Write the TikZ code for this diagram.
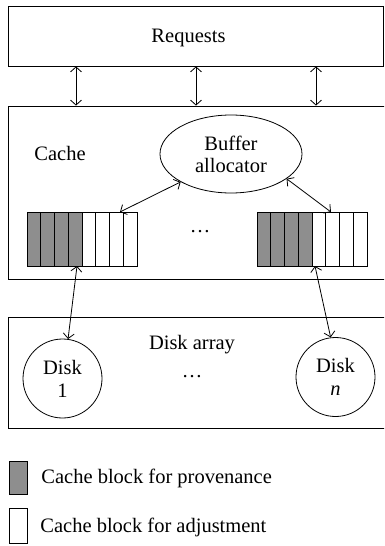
\documentclass[tikz,border=0pt]{standalone}
\usepackage{fontspec}
\setmainfont{Liberation Serif}
\usetikzlibrary{arrows.meta,shapes.geometric}
\begin{document}
\begin{tikzpicture}[x=1pt,y=-1pt,line width=0.8pt,
  font=\fontsize{20.5}{23}\selectfont,
  frame/.style={draw,rectangle,inner sep=0pt},
  txt/.style={inner sep=0pt},
  cell/.style={draw,rectangle,inner sep=0pt,minimum width=13.75pt,minimum height=54pt},
  prov/.style={cell,fill=provgray},
  adj/.style={cell,fill=white},
  disk/.style={draw,circle,minimum size=79pt,inner sep=0pt,align=center},
  link/.style={{Straight Barb[length=5pt,width=11pt]}-{Straight Barb[length=5pt,width=11pt]}},
  tolink/.style={-{Straight Barb[length=5pt,width=11pt]}}]
\definecolor{provgray}{HTML}{8E8E8E}
\useasboundingbox (0,0) rectangle (384,546);
\clip (0,0) rectangle (384,546);

% layers
\node[frame,minimum width=375pt,minimum height=60pt] (req) at (195.5,36) {};
\node[txt] at (188.5,38) {Requests};
\node[frame,minimum width=380pt,minimum height=173pt] (cache) at (198,192.5) {};
\node[txt] (cachelbl) at (60,153) {Cache};
\node[frame,minimum width=380pt,minimum height=111pt] (array) at (198,372.5) {};
\node[txt] (arraylbl) at (192,345) {Disk array};

% request channels
\foreach \x/\n in {76/1,196/2,316/3}{
  \coordinate (ch\n) at (\x,0);
  \draw[link] (req.south -| ch\n) -- (cache.north -| ch\n);
}

% buffer allocator
\node[draw,ellipse,minimum width=142pt,minimum height=78pt,inner sep=0pt,align=center]
  (alloc) at (231,154) {Buffer\\[-1pt]allocator};

% cache blocks
\foreach \i in {1,...,8}{
  \pgfmathsetmacro{\cx}{27+13.75*(\i-0.5)}
  \pgfmathsetmacro{\rx}{257+13.75*(\i-0.5)}
  \ifnum\i<5
    \node[prov] (lb\i) at (\cx,239) {};
    \node[prov] (rb\i) at (\rx,239) {};
  \else
    \node[adj] (lb\i) at (\cx,239) {};
    \node[adj] (rb\i) at (\rx,239) {};
  \fi
}
\node[txt] (cdots) at (200,232) {\dots};

% disks
\node[disk] (d1) at (62.5,378.5) {Disk\\1};
\node[disk] (dn) at (335.5,377) {Disk\\\textit{n}};
\node[txt] (ddots) at (192,377) {\dots};

% connectors
\coordinate (ltop) at (120,212);
\coordinate (rtop) at (331,212);
\coordinate (lbot) at (77,266);
\coordinate (rbot) at (315,266);
\draw[link] (alloc.209) -- (ltop);
\draw[link] (alloc.-24) -- (rtop);
\draw[link] (lbot) -- (d1.82);
\draw[link] (rbot) -- (dn.97);

% legend
\node[draw,fill=provgray,minimum width=18pt,minimum height=33pt,inner sep=0pt] (kp) at (18,477.5) {};
\node[txt,anchor=west] (kpt) at (41,478) {Cache block for provenance};
\node[draw,fill=white,minimum width=18pt,minimum height=35pt,inner sep=0pt] (ka) at (18,525.5) {};
\node[txt,anchor=west] (kat) at (40,527) {Cache block for adjustment};
\end{tikzpicture}
\end{document}
